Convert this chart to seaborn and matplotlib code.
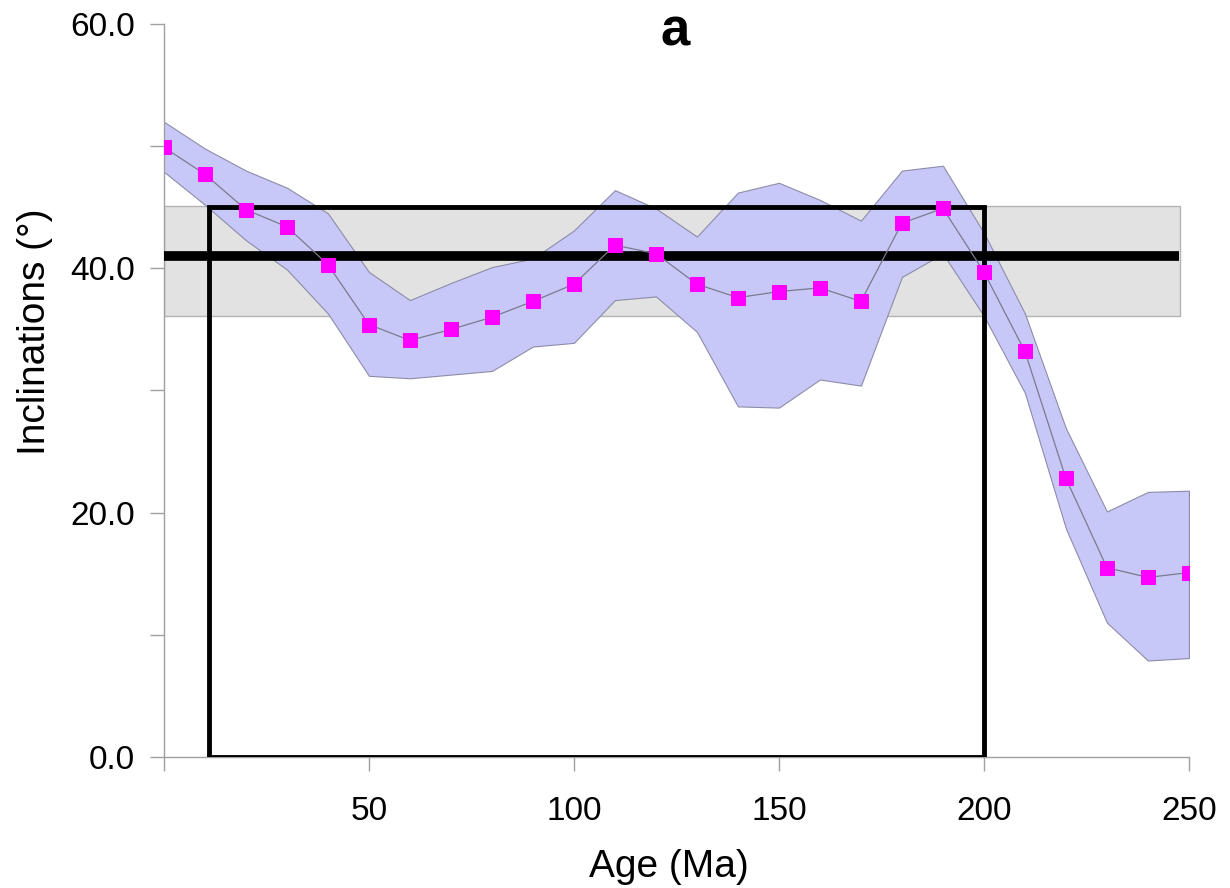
import numpy as np
import matplotlib
matplotlib.use("Agg")
import matplotlib.pyplot as plt
import seaborn as sb
from matplotlib.patches import Rectangle

age = [0, 10, 20, 30, 40, 50, 60, 70, 80, 90, 100, 110, 120, 130, 140, 150,
       160, 170, 180, 190, 200, 210, 220, 230, 240, 250]
incl = [49.9, 47.7, 44.8, 43.4, 40.3, 35.4, 34.1, 35.0, 36.0, 37.3, 38.7, 41.9,
        41.2, 38.7, 37.6, 38.1, 38.4, 37.3, 43.7, 44.9, 39.7, 33.2, 22.8, 15.5,
        14.7, 15.1]
upper = [52.0, 49.8, 48.0, 46.6, 44.5, 39.7, 37.4, 38.8, 40.1, 40.8, 43.1, 46.4,
         44.9, 42.6, 46.2, 47.0, 45.6, 43.9, 48.0, 48.4, 42.9, 36.3, 26.9, 20.1,
         21.7, 21.8]
lower = [47.9, 45.2, 42.3, 39.9, 36.3, 31.2, 31.0, 31.3, 31.6, 33.6, 33.9, 37.4,
         37.7, 34.8, 28.7, 28.6, 30.9, 30.4, 39.3, 41.2, 36.1, 29.8, 18.7, 11.0,
         7.9, 8.1]

# reference band and mean
band_lo, band_hi, band_end = 36.1, 45.1, 247.8
ref_incl, ref_end = 41.0, 247.5
# window box
box_x0, box_x1, box_top = 11.0, 200.0, 45.0

sb.set_style("white")
plt.rcParams['font.family'] = ['Liberation Sans', 'DejaVu Sans']
plt.rcParams['text.color'] = 'black'
plt.rcParams['axes.labelcolor'] = 'black'
plt.rcParams['xtick.labelcolor'] = 'black'
plt.rcParams['ytick.labelcolor'] = 'black'

fig = plt.figure(figsize=(12.3, 8.88), dpi=100)
ax = fig.add_axes([0.1333, 0.1475, 0.8333, 0.8255])

ax.add_patch(Rectangle((0, band_lo), band_end, band_hi - band_lo,
                       facecolor='#e2e2e2', edgecolor='#b4b4b4', lw=1, zorder=1))
ax.fill_between(age, lower, upper, facecolor='#c8c8f8', edgecolor='#8c8ca8',
                lw=0.8, zorder=2)
ax.plot([0, ref_end], [ref_incl, ref_incl], color='black', lw=7,
        solid_capstyle='butt', zorder=3)
ax.add_patch(Rectangle((box_x0, 0), box_x1 - box_x0, box_top, fill=False,
                       edgecolor='black', lw=3.5, zorder=4))
sb.lineplot(x=age, y=incl, ax=ax, color='#7a7a90', lw=0.9, marker='s',
            markersize=10, markerfacecolor='#ff00ff', markeredgecolor='#ff00ff',
            zorder=5)

ax.set_xlim(0, 250)
ax.set_ylim(0, 60)
ax.set_xticks([0, 50, 100, 150, 200, 250])
ax.set_xticklabels(['', '50', '100', '150', '200', '250'])
ax.set_yticks(np.arange(0, 61, 10))
ax.set_yticklabels(['0.0', '', '20.0', '', '40.0', '', '60.0'])
ax.tick_params(axis='both', direction='out', length=10, width=1,
               color='#a0a0a0', labelsize=24, left=True, bottom=True)
ax.tick_params(axis='x', pad=18)
ax.tick_params(axis='y', pad=11)
for s in ['top', 'right']:
    ax.spines[s].set_visible(False)
for s in ['left', 'bottom']:
    ax.spines[s].set_color('#a0a0a0')
    ax.spines[s].set_linewidth(1)

ax.set_xlabel('Age (Ma)', fontsize=28)
ax.set_ylabel('Inclinations (°)', fontsize=28)
ax.yaxis.set_label_coords(-0.108, 0.58)
ax.xaxis.set_label_coords(0.493, -0.125)
ax.text(0.499, 0.971, 'a', transform=ax.transAxes, ha='center',
        va='baseline', fontsize=38, fontweight='bold')

fig.savefig('out.png', dpi=100)
